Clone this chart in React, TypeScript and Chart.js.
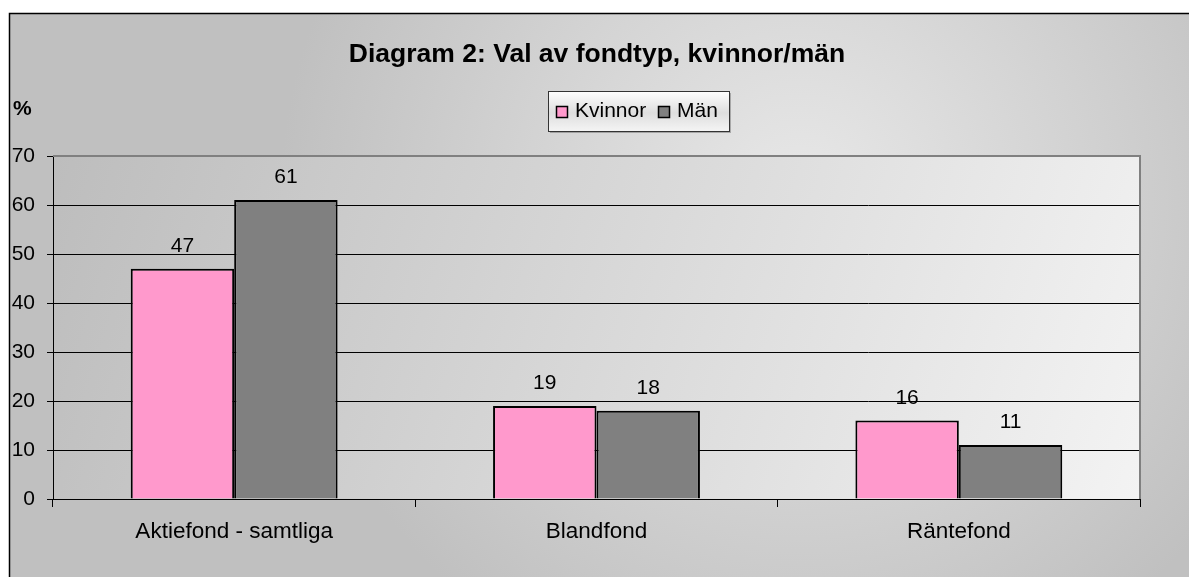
import React, { useEffect, useRef } from "react";
import { Chart, registerables } from "chart.js";

Chart.register(...registerables);

const categories = ["Aktiefond - samtliga", "Blandfond", "Räntefond"];
const seriesNames = ["Kvinnor", "Män"];
const womenValues = [47, 19, 16];
const menValues = [61, 18, 11];
const yTicks = [0, 10, 20, 30, 40, 50, 60, 70];
const titleText = "Diagram 2: Val av fondtyp, kvinnor/män";
const yUnit = "%";

const FONT = '"Liberation Sans", Arial, sans-serif';

const decorPlugin = {
  id: "decor",
  beforeDraw(chart: any) {
    const { ctx, width, height, chartArea } = chart;
    ctx.save();
    ctx.fillStyle = "#ffffff";
    ctx.fillRect(0, 0, width, height);
    const rg = ctx.createRadialGradient(800, 200, 0, 800, 200, 520);
    rg.addColorStop(0, "#e8e8e8");
    rg.addColorStop(1, "#c0c0c0");
    ctx.fillStyle = rg;
    ctx.fillRect(9, 13, width, height);
    ctx.strokeStyle = "#000";
    ctx.lineWidth = 1.5;
    ctx.strokeRect(9.5, 13.5, width + 10, height + 10);

    // plot area gradient
    const { left, top, right, bottom } = chartArea;
    const lg = ctx.createLinearGradient(left, top, right, bottom);
    lg.addColorStop(0, "#bdbdbd");
    lg.addColorStop(1, "#f3f3f3");
    ctx.fillStyle = lg;
    ctx.fillRect(left, top, right - left, bottom - top);

    // title
    ctx.fillStyle = "#000";
    ctx.font = `bold 26.5px ${FONT}`;
    ctx.textAlign = "center";
    ctx.textBaseline = "alphabetic";
    ctx.fillText(titleText, 597, 62);

    // unit label
    ctx.font = `bold 21px ${FONT}`;
    ctx.textAlign = "left";
    ctx.fillText(yUnit, 13, 115);

    // legend
    const bx = 548, by = 91, bw = 181, bh = 40;
    ctx.fillStyle = "rgba(0,0,0,0.25)";
    ctx.fillRect(bx + 2, by + 2, bw, bh);
    const lgg = ctx.createLinearGradient(0, by, 0, by + bh);
    lgg.addColorStop(0, "#ffffff");
    lgg.addColorStop(0.55, "#dedede");
    lgg.addColorStop(1, "#f4f4f4");
    ctx.fillStyle = lgg;
    ctx.fillRect(bx, by, bw, bh);
    ctx.strokeStyle = "#333";
    ctx.lineWidth = 1;
    ctx.strokeRect(bx + 0.5, by + 0.5, bw, bh);
    const items = chart.data.datasets.map((d: any) => ({ label: d.label, color: d.backgroundColor }));
    const positions = [556, 658];
    ctx.font = `21px ${FONT}`;
    items.forEach((it: any, i: number) => {
      const x = positions[i];
      ctx.fillStyle = it.color;
      ctx.fillRect(x, 106, 12, 12);
      ctx.strokeStyle = "#000";
      ctx.lineWidth = 1.5;
      ctx.strokeRect(x + 0.5, 106.5, 11, 11);
      ctx.fillStyle = "#000";
      ctx.textAlign = "left";
      ctx.fillText(it.label, x + 19, 117);
    });
    ctx.restore();
  },
  afterDraw(chart: any) {
    const { ctx, chartArea } = chart;
    const { top, right, bottom } = chartArea;
    ctx.save();
    ctx.strokeStyle = "#808080";
    ctx.lineWidth = 2;
    ctx.beginPath();
    ctx.moveTo(chartArea.left, top);
    ctx.lineTo(right, top);
    ctx.lineTo(right, bottom);
    ctx.stroke();
    ctx.strokeStyle = "#000";
    ctx.lineWidth = 1;
    ctx.beginPath();
    ctx.moveTo(right + 0.5, bottom);
    ctx.lineTo(right + 0.5, bottom + 8);
    ctx.stroke();
    ctx.restore();
  },
  afterDatasetsDraw(chart: any) {
    const { ctx } = chart;
    ctx.save();
    ctx.fillStyle = "#000";
    ctx.font = `21px ${FONT}`;
    ctx.textAlign = "center";
    ctx.textBaseline = "alphabetic";
    chart.data.datasets.forEach((ds: any, i: number) => {
      const meta = chart.getDatasetMeta(i);
      meta.data.forEach((bar: any, j: number) => {
        ctx.fillText(String(ds.data[j]), bar.x, bar.y - 17);
      });
    });
    ctx.restore();
  },
};

export default function App() {
  const ref = useRef<HTMLCanvasElement | null>(null);
  useEffect(() => {
    if (!ref.current) return;
    const chart = new Chart(ref.current, {
      type: "bar",
      data: {
        labels: categories,
        datasets: [
          {
            label: seriesNames[0],
            data: womenValues,
            backgroundColor: "#ff99cc",
            borderColor: "#000",
            borderWidth: 2,
            categoryPercentage: 0.571,
            barPercentage: 1,
          },
          {
            label: seriesNames[1],
            data: menValues,
            backgroundColor: "#808080",
            borderColor: "#000",
            borderWidth: 2,
            categoryPercentage: 0.571,
            barPercentage: 1,
          },
        ],
      },
      options: {
        responsive: false,
        animation: false,
        layout: { padding: { top: 156, right: 49, left: 0, bottom: 0 } },
        plugins: { legend: { display: false }, title: { display: false }, tooltip: { enabled: false } },
        scales: {
          x: {
            grid: { offset: true, drawOnChartArea: false, drawTicks: true, tickLength: 8, color: "#000", tickColor: "#000" },
            border: { color: "#000", width: 1 },
            ticks: { font: { family: FONT, size: 22.5 }, color: "#000", padding: 11 },
            afterFit: (s: any) => { s.height = 78; },
          },
          y: {
            min: yTicks[0],
            max: yTicks[yTicks.length - 1],
            afterBuildTicks: (s: any) => { s.ticks = yTicks.map((v) => ({ value: v })); },
            grid: {
              color: (c: any) => (c.tick && c.tick.value === yTicks[yTicks.length - 1] ? "rgba(0,0,0,0)" : "#000"),
              tickColor: "#000",
              tickLength: 6,
              lineWidth: 1,
            },
            border: { color: "#000", width: 1 },
            ticks: { font: { family: FONT, size: 21 }, color: "#000", padding: 12, stepSize: 10 },
            afterFit: (s: any) => { s.width = 53; },
          },
        },
      },
      plugins: [decorPlugin],
    });
    return () => chart.destroy();
  }, []);
  return (
    <div style={{ position: "absolute", left: 0, top: 0, width: 1189, height: 577 }}>
      <canvas ref={ref} width={1189} height={577} style={{ display: "block" }} />
    </div>
  );
}
